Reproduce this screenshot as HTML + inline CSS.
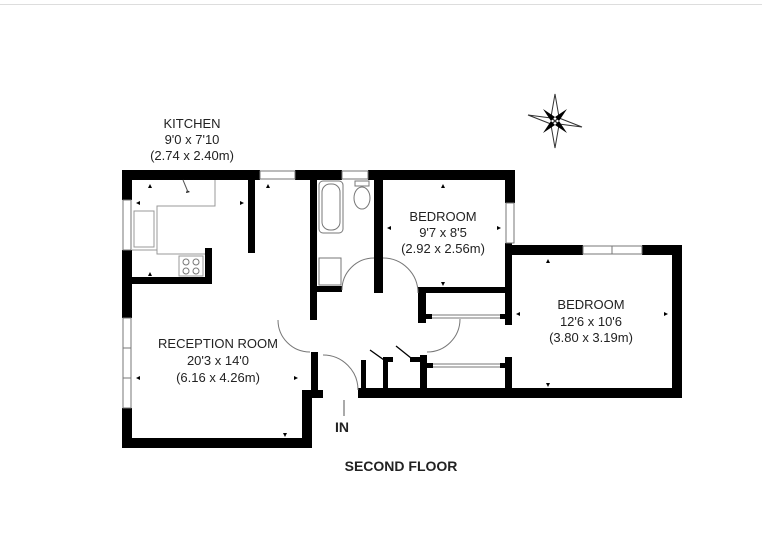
<!DOCTYPE html>
<html><head><style>
html,body{margin:0;padding:0;background:#fff;}
svg{display:block;}
text{font-family:"Liberation Sans",sans-serif;fill:#222;}
</style></head><body>
<svg width="762" height="554" viewBox="0 0 762 554" xmlns="http://www.w3.org/2000/svg">
<rect width="762" height="554" fill="#fff"/>
<line x1="0" y1="4.5" x2="762" y2="4.5" stroke="#ddd" stroke-width="1"/>
<g fill="#000">
<rect x="122" y="170" width="138" height="10"/>
<rect x="295" y="170" width="47" height="10"/>
<rect x="368" y="170" width="147" height="10"/>
<rect x="122" y="170" width="10" height="30"/>
<rect x="122" y="250" width="10" height="68"/>
<rect x="122" y="408" width="10" height="40"/>
<rect x="122" y="438" width="190" height="10"/>
<rect x="302" y="390" width="10" height="58"/>
<rect x="302" y="390" width="21" height="8"/>
<rect x="311" y="352" width="7" height="46"/>
<rect x="310" y="180" width="7" height="140"/>
<rect x="248" y="180" width="7" height="73"/>
<rect x="132" y="277" width="80" height="7"/>
<rect x="205" y="248" width="7" height="36"/>
<rect x="317" y="286" width="25" height="6"/>
<rect x="374" y="180" width="9" height="113"/>
<rect x="505" y="170" width="10" height="33"/>
<rect x="418" y="287" width="94" height="6"/>
<rect x="418" y="287" width="8" height="36"/>
<rect x="426" y="314" width="6" height="5"/>
<rect x="500" y="314" width="5" height="5"/>
<rect x="505" y="243" width="7" height="82"/>
<rect x="505" y="245" width="78" height="10"/>
<rect x="642" y="245" width="40" height="10"/>
<rect x="672" y="245" width="10" height="153"/>
<rect x="505" y="357" width="7" height="41"/>
<rect x="358" y="388" width="324" height="10"/>
<rect x="420" y="355" width="7" height="35"/>
<rect x="427" y="363" width="6" height="5"/>
<rect x="500" y="363" width="5" height="5"/>
<rect x="361" y="360" width="5" height="30"/>
<rect x="383" y="360" width="5" height="30"/>
<rect x="383" y="357" width="10" height="5"/>
<rect x="410" y="357" width="10" height="5"/>
<!-- dimension ticks -->
<polygon points="150,184 152,188 148,188"/>
<polygon points="152,276 150,272 148,276" />
<polygon points="136,203 140,201 140,205"/>
<polygon points="244,203 240,201 240,205"/>
<polygon points="268,184 270,188 266,188"/>
<polygon points="136,378 140,376 140,380"/>
<polygon points="298,378 294,376 294,380"/>
<polygon points="285,437 283,433 287,433"/>
<polygon points="443,184 445,188 441,188"/>
<polygon points="443,286 441,282 445,282"/>
<polygon points="387,228 391,226 391,230"/>
<polygon points="501,228 497,226 497,230"/>
<polygon points="548,259 550,263 546,263"/>
<polygon points="548,387 546,383 550,383"/>
<polygon points="516,314 520,312 520,316"/>
<polygon points="668,314 664,312 664,316"/>
<polygon points="187,190 190,192 186,193" />
</g>
<g fill="none" stroke="#777" stroke-width="1">
<rect x="260" y="171" width="35" height="8"/>
<rect x="342" y="171" width="26" height="8"/>
<rect x="506" y="203" width="8" height="40"/>
<rect x="583" y="246" width="59" height="8"/>
<line x1="612" y1="246" x2="612" y2="254"/>
<rect x="123" y="200" width="8" height="50"/>
<rect x="123" y="318" width="8" height="90"/>
<line x1="123" y1="348" x2="131" y2="348"/><line x1="123" y1="378" x2="131" y2="378"/>
<polyline points="132,250 157,250 157,206 215,206 215,180" stroke="#999"/>
<polyline points="157,250 157,254 205,254" stroke="#999"/>
<rect x="134" y="211" width="20" height="36" stroke="#999"/>
<rect x="179" y="256" width="24" height="20" stroke="#999"/>
<circle cx="186" cy="262" r="3"/><circle cx="196" cy="262" r="3"/><circle cx="186" cy="271" r="3"/><circle cx="196" cy="271" r="3"/>
<line x1="183" y1="180" x2="188" y2="192" stroke="#555"/>
<rect x="319" y="181" width="24" height="52" rx="4"/>
<rect x="322" y="184" width="18" height="46" rx="8"/>
<rect x="319" y="258" width="22" height="27"/>
<ellipse cx="362" cy="198" rx="8" ry="11"/>
<rect x="355" y="181" width="14" height="5"/>
<path d="M342,290 A32,32 0 0 1 374,258"/>
<path d="M383,258 A35,35 0 0 1 418,293"/>
<path d="M278,320 A32,32 0 0 0 310,352"/>
<path d="M323,355 A35,35 0 0 1 358,390"/>
<path d="M460,319 A33,33 0 0 1 427,352"/>
<line x1="432" y1="315" x2="500" y2="315"/><line x1="432" y1="318" x2="500" y2="318"/>
<line x1="433" y1="364" x2="500" y2="364"/><line x1="433" y1="367" x2="500" y2="367"/>
</g>
<g stroke="#000" stroke-width="1.3">
<line x1="370" y1="350" x2="384" y2="360"/>
<line x1="396" y1="346" x2="411" y2="358"/>
<line x1="344" y1="400" x2="344" y2="416" stroke="#555" stroke-width="1"/>
</g>
<g transform="translate(555,121)">
<polygon points="0,-27 4,-4 0,0 -4,-4" fill="none" stroke="#333"/>
<polygon points="0,27 4,4 0,0 -4,4" fill="none" stroke="#333"/>
<polygon points="-27,-6 -4,-3 0,0 -4,3" fill="none" stroke="#333"/>
<polygon points="27,6 4,3 0,0 4,-3" fill="none" stroke="#333"/>
<polygon points="-12,-12 0,-4 -4,0" fill="#000"/>
<polygon points="12,-12 4,0 0,-4" fill="#000"/>
<polygon points="-12,12 -4,0 0,4" fill="#000"/>
<polygon points="12,12 0,4 4,0" fill="#000"/>
</g>
<g font-size="13" text-anchor="middle">
<text x="192" y="128">KITCHEN</text>
<text x="192" y="144">9'0 x 7'10</text>
<text x="192" y="160">(2.74 x 2.40m)</text>
<text x="218" y="348">RECEPTION ROOM</text>
<text x="218" y="365">20'3 x 14'0</text>
<text x="218" y="382">(6.16 x 4.26m)</text>
<text x="443" y="221">BEDROOM</text>
<text x="443" y="237">9'7 x 8'5</text>
<text x="443" y="253">(2.92 x 2.56m)</text>
<text x="591" y="309">BEDROOM</text>
<text x="591" y="326">12'6 x 10'6</text>
<text x="591" y="342">(3.80 x 3.19m)</text>
</g>
<text x="335" y="432" font-size="14" font-weight="bold">IN</text>
<text x="401" y="471" font-size="14" font-weight="bold" text-anchor="middle">SECOND FLOOR</text>
</svg>
</body></html>
